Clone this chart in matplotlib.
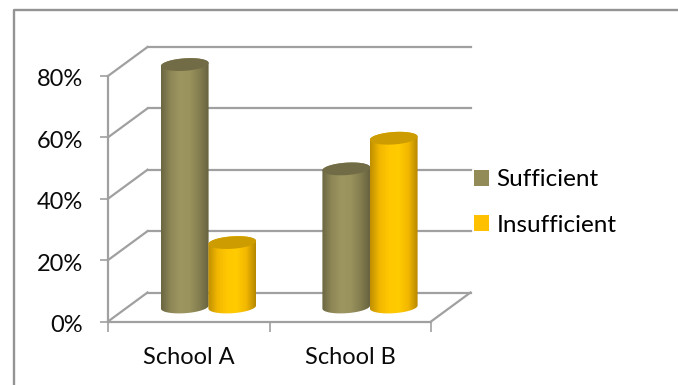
import numpy as np
import matplotlib
matplotlib.use("Agg")
import matplotlib.pyplot as plt
from matplotlib.colors import LinearSegmentedColormap
from matplotlib.patches import Patch
from matplotlib.path import Path
from matplotlib.transforms import Affine2D, IdentityTransform

# Chart data (percent)
schools = ["School A", "School B"]
series_names = ["Sufficient", "Insufficient"]
sufficient = [79, 45]
insufficient = [21, 55]
percent_ticks = [0, 20, 40, 60, 80]

# Styling
W, H = 678, 385
GRID = "#A0A0A0"
TEXT = "#0A0A0A"
FONT = ["Lato", "DejaVu Sans"]
FS = 17
LEGEND_FS = 17.5
side_shades = [["#6A6642", "#8E8756", "#9D9661", "#9A935E", "#847E50", "#68633F"],
               ["#BF8F00", "#F2B800", "#FFC800", "#FFCB00", "#F2B800", "#B68800"]]
cap_colors = ["#716C45", "#CC9C00"]
legend_colors = ["#938B57", "#FFC000"]

# Front plane of the 3-D box, in pixels
LEFT, RIGHT, BASE, TOP80 = 108.0, 431.0, 321.5, 76.0
DEPTH_X, DEPTH_Y = 39.5, 29.0

fig = plt.figure(figsize=(W / 100, H / 100), dpi=100)
fig.patch.set_facecolor("white")
ax = fig.add_axes([LEFT / W, 1 - BASE / H, (RIGHT - LEFT) / W, (BASE - TOP80) / H])
ax.set_facecolor("none")

xlim = (0, len(schools))
ylim = (0, percent_ticks[-1])
ax.set_xlim(*xlim)
ax.set_ylim(*ylim)
px_x = (RIGHT - LEFT) / (xlim[1] - xlim[0])
px_y = (BASE - TOP80) / (ylim[1] - ylim[0])

back = ax.transData + Affine2D().translate(DEPTH_X, DEPTH_Y)
mid = ax.transData + Affine2D().translate(DEPTH_X / 2, DEPTH_Y / 2)


def depth_line(x, v):
    """Receding edge running from the front plane to the back wall."""
    p0 = ax.transData.transform((x, v))
    p1 = back.transform((x, v))
    ax.plot([p0[0], p1[0]], [p0[1], p1[1]], color=GRID, lw=1.6,
            transform=IdentityTransform(), clip_on=False, zorder=1)


# Walls and floor
for v in percent_ticks:
    ax.plot(xlim, [v, v], color=GRID, lw=1.6, transform=back, clip_on=False, zorder=1)
    depth_line(xlim[0], v)
depth_line(xlim[1], 0)


def ellipse(xc, y, half_w, half_h=6.2, tilt=4.0, t=None):
    """Tilted ellipse around (xc, y); half sizes are given in pixels."""
    if t is None:
        t = np.linspace(0, 2 * np.pi, 90)
    a = np.deg2rad(tilt)
    ex = half_w * np.cos(t)
    ey = half_h * np.sin(t)
    return (xc + (ex * np.cos(a) - ey * np.sin(a)) / px_x,
            y + (ex * np.sin(a) + ey * np.cos(a)) / px_y)


def cylinder(xc, value, shades, cap, order):
    half_w = 23.9
    width = half_w / px_x
    # outer contour: lower half of the base, upper half of the top
    t_low = np.linspace(np.pi, 2 * np.pi, 60)
    t_up = np.linspace(0, np.pi, 60)
    bx, by = ellipse(xc, 0, half_w, t=t_low)
    tx, ty = ellipse(xc, value, half_w, t=t_up)
    outline = Path(np.column_stack([np.r_[bx, tx, bx[0]], np.r_[by, ty, by[0]]]))
    cmap = LinearSegmentedColormap.from_list("side", shades)
    im = ax.imshow(np.linspace(0, 1, 128)[None, :], cmap=cmap, aspect="auto",
                   extent=(xc - width, xc + width, -4, value + 4),
                   interpolation="bilinear", transform=mid, zorder=order)
    im.set_clip_box(fig.bbox)
    im.set_clip_path(outline, mid)
    cx, cy = ellipse(xc, value, half_w)
    ax.fill(cx, cy, color=cap, lw=0, transform=mid, clip_on=False, zorder=order + 0.1)


# Cylinders, left to right so neighbours overlap the same way
bar_w = 47.5 / px_x
for i in range(len(schools)):
    centre = i + 0.5
    cylinder(centre - bar_w / 2, sufficient[i], side_shades[0], cap_colors[0], 3 + i * 2)
    cylinder(centre + bar_w / 2, insufficient[i], side_shades[1], cap_colors[1], 4 + i * 2)

ax.set_xlim(*xlim)
ax.set_ylim(*ylim)

# Axes
for name in ("top", "right"):
    ax.spines[name].set_visible(False)
for name in ("left", "bottom"):
    ax.spines[name].set_color(GRID)
    ax.spines[name].set_linewidth(1.6)
ax.set_yticks(percent_ticks)
ax.set_yticklabels([f"{v}%" for v in percent_ticks], family=FONT, fontsize=FS, color=TEXT)
ax.tick_params(axis="y", length=5.8, width=1.2, color=GRID, pad=12)
for lbl in ax.get_yticklabels():
    lbl.set_transform(lbl.get_transform() + Affine2D().translate(0, -2))
ax.set_xticks(range(len(schools) + 1))
ax.set_xticklabels([])
ax.set_xticks([i + 0.5 for i in range(len(schools))], minor=True)
ax.set_xticklabels(schools, minor=True, family=FONT, fontsize=FS, color=TEXT)
ax.tick_params(axis="x", which="major", length=7, width=1.2, color=GRID)
ax.tick_params(axis="x", which="minor", length=0, pad=18)

# Legend
handles = [Patch(facecolor=c, edgecolor="none", label=n)
           for c, n in zip(legend_colors, series_names)]
fig.legend(handles=handles, loc="upper left", bbox_to_anchor=(467 / W, 1 - 162 / H),
           frameon=False, prop={"family": FONT, "size": LEGEND_FS},
           handlelength=0.617, handleheight=0.617, handletextpad=0.29, labelspacing=1.0,
           borderpad=0.3, borderaxespad=0)

# Outer frame of the chart: top and left edges only
fig.add_artist(plt.Line2D([14 / W, 14 / W, 1], [0, 1 - 10 / H, 1 - 10 / H], color="#949494", lw=1.7))

fig.savefig("out.png", dpi=100)
